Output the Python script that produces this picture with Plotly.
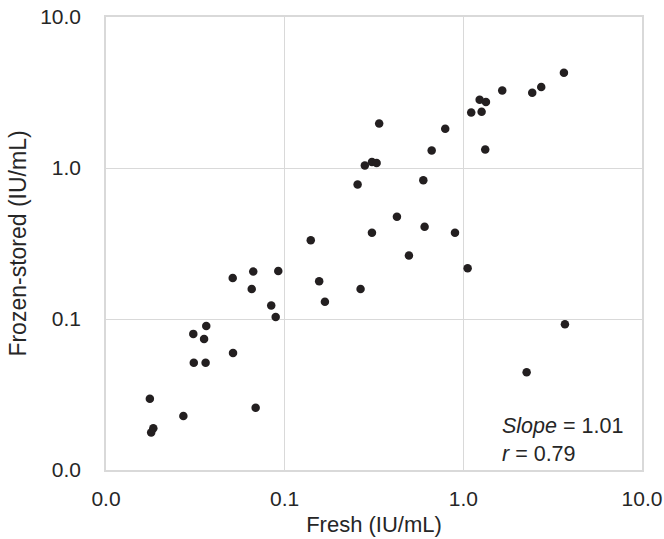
import plotly.graph_objects as go

fresh = [0.0179, 0.0184, 0.0176, 0.0271, 0.0310, 0.0361, 0.0308, 0.0354, 0.0364, 0.0514,
         0.0688, 0.0512, 0.0667, 0.0921, 0.0654, 0.0841, 0.0891, 0.140, 0.156, 0.168,
         0.266, 0.256, 0.281, 0.308, 0.327, 0.338, 0.308, 0.425, 0.496, 0.597,
         0.607, 0.665, 0.792, 0.898, 1.057, 1.107, 1.266, 1.234, 1.338, 1.326,
         1.651, 2.430, 2.729, 3.656, 3.704, 2.261]
frozen = [0.0177, 0.0189, 0.0296, 0.0228, 0.0514, 0.0514, 0.0797, 0.0738, 0.0900, 0.0596,
          0.0258, 0.187, 0.206, 0.208, 0.158, 0.123, 0.103, 0.332, 0.178, 0.130,
          0.158, 0.777, 1.039, 1.094, 1.078, 1.972, 0.372, 0.475, 0.263, 0.831,
          0.408, 1.306, 1.819, 0.372, 0.217, 2.332, 2.357, 2.831, 2.733, 1.326,
          3.263, 3.150, 3.437, 4.274, 0.0924, 0.0444]

tick_vals = [0.01, 0.1, 1, 10]
tick_text = ["0.0", "0.1", "1.0", "10.0"]

font_family = "Liberation Sans, Arial, sans-serif"
text_col = "#262626"
grid_col = "#d9d9d9"

fig = go.Figure()
fig.add_trace(go.Scatter(
    x=fresh, y=frozen, mode="markers",
    marker=dict(size=8.5, color="#231f20"),
    showlegend=False,
))

axis_common = dict(
    type="log",
    tickvals=tick_vals,
    ticktext=tick_text,
    showgrid=True,
    gridcolor=grid_col,
    gridwidth=1,
    showline=True,
    linecolor=grid_col,
    linewidth=1.5,
    mirror=True,
    ticks="",
    zeroline=False,
    automargin=False,
    ticklabeloverflow="allow",
    tickfont=dict(family=font_family, size=21, color=text_col),
)

fig.update_xaxes(range=[-2, 1],
                 title=dict(text="Fresh (IU/mL)", font=dict(family=font_family, size=22, color=text_col), standoff=8),
                 ticklabelstandoff=9,
                 **axis_common)
fig.update_yaxes(range=[-2, 1],
                 title=dict(text="Frozen-stored (IU/mL)", font=dict(family=font_family, size=23, color=text_col), standoff=7),
                 ticklabelstandoff=19,
                 **axis_common)

fig.add_annotation(
    x=0.736, y=0.004, xref="paper", yref="paper",
    xanchor="left", yanchor="bottom",
    text="<i>Slope</i> = 1.01<br><i>r</i> = 0.79",
    showarrow=False, align="left",
    font=dict(family=font_family, size=21.5, color=text_col),
)

fig.update_layout(
    width=664, height=539,
    margin=dict(l=106, r=22, t=17, b=69),
    paper_bgcolor="white",
    plot_bgcolor="white",
    font=dict(family=font_family, size=21, color=text_col),
)

# remove the default 8px page margin so the figure fills the window exactly
fig.write_html("out.html", config={"displayModeBar": False},
               post_script="document.body.style.margin='0px';")
